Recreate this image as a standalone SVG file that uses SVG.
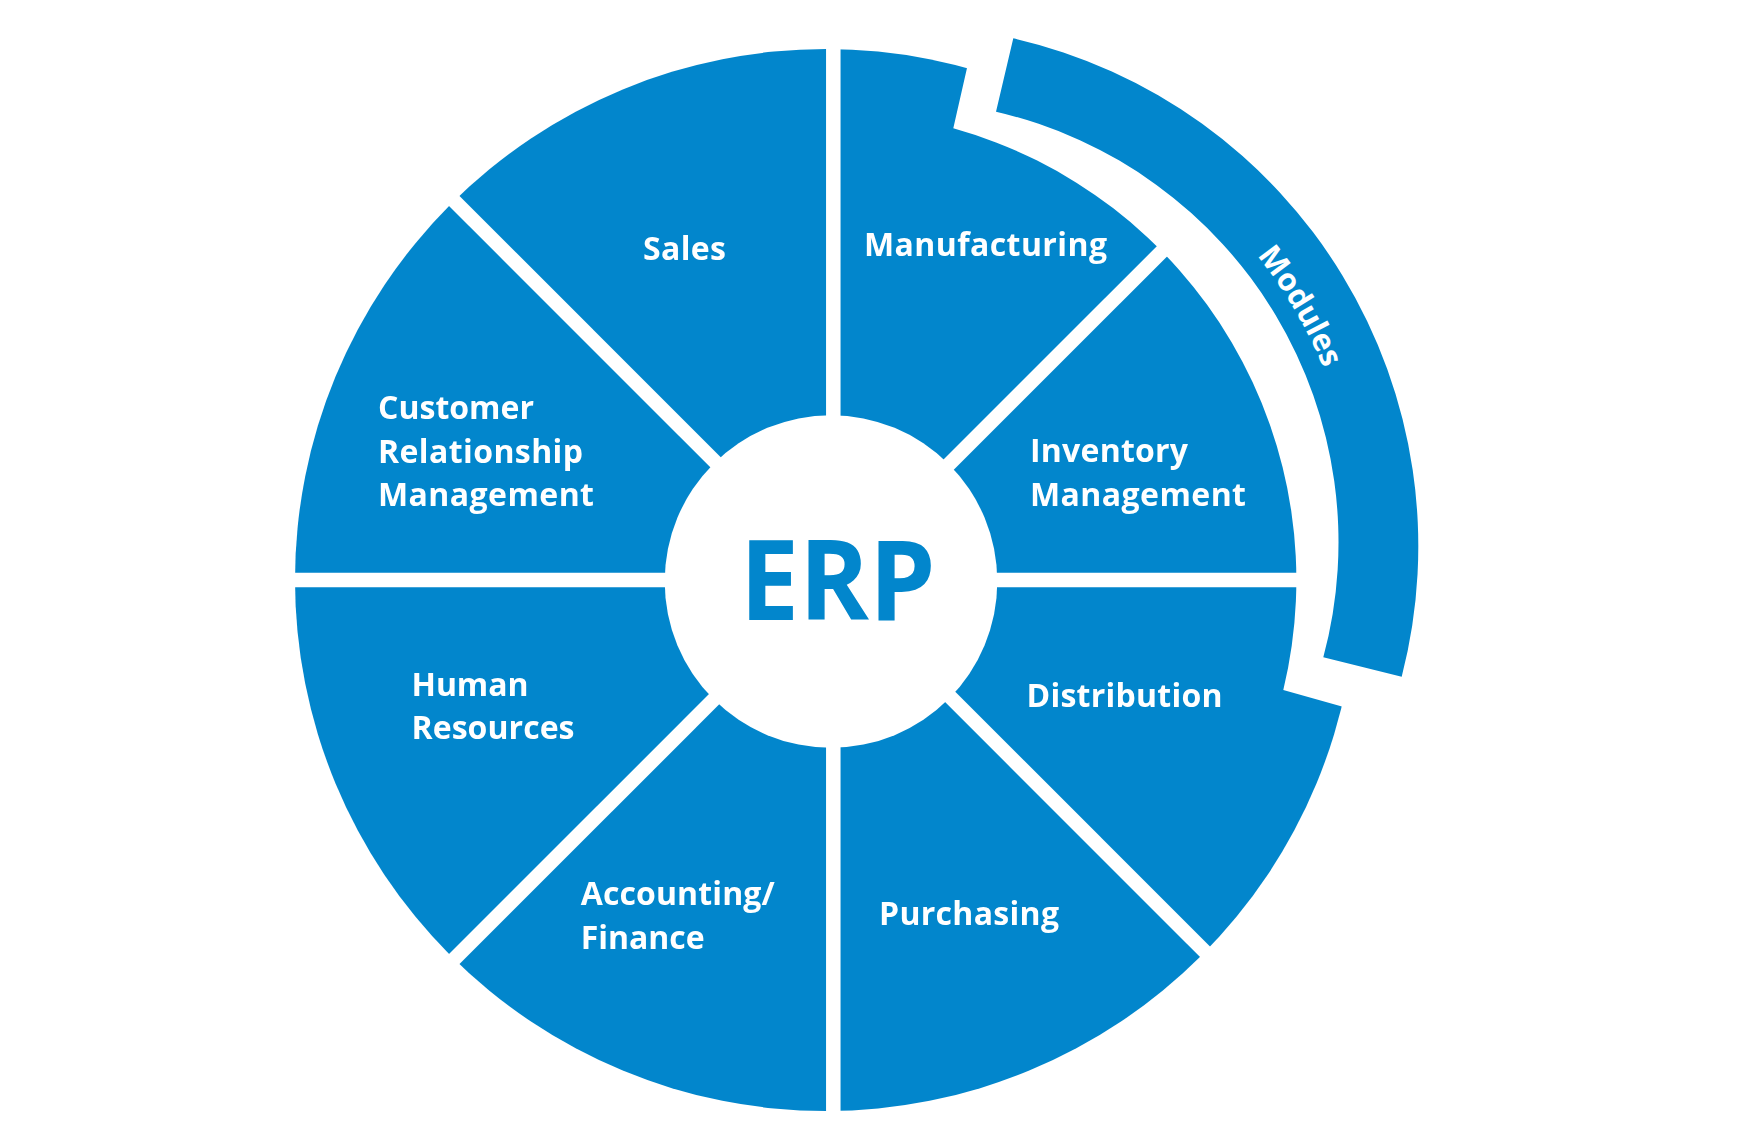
<svg xmlns="http://www.w3.org/2000/svg" width="1744" height="1122" viewBox="0 0 1744 1122">
  <style>
    .sector { fill: #0286cc; }
    .label { font-family: "Open Sans", "Noto Sans", "Liberation Sans", sans-serif; font-weight: 700; font-size: 32px; fill: #ffffff; }
    .erp { font-family: "Open Sans", "Noto Sans", "Liberation Sans", sans-serif; font-weight: 700; font-size: 111px; fill: #0286cc; }
    .mod { font-family: "Open Sans", "Noto Sans", "Liberation Sans", sans-serif; font-weight: 700; font-size: 31px; fill: #ffffff; }
  </style>
  <defs>
    <clipPath id="disc">
      <circle cx="826" cy="580" r="531"/>
    </clipPath>
    <mask id="gaps" maskUnits="userSpaceOnUse" x="0" y="0" width="1744" height="1122">
      <rect x="0" y="0" width="1744" height="1122" fill="#fff"/>
      <g stroke="#000" stroke-width="14.5">
        <line x1="833.3" y1="0" x2="833.3" y2="1122"/>
        <line x1="0" y1="580" x2="1744" y2="580"/>
        <line x1="133.3" y1="-120" x2="1533.3" y2="1280"/>
        <line x1="133.3" y1="1280" x2="1533.3" y2="-120"/>
      </g>
      <circle cx="831" cy="581.5" r="166.3" fill="#000"/>
      <path d="M953.3,128.3 A469,469 0 0 1 1283.3,690 L1429.6,731.3 L1700,740 L1700,-100 L1005.2,-100 Z" fill="#000"/>
    </mask>
    <path id="modArc" d="M814.43,89.05 A464,464 0 0 1 1331.02,704.70"/>
  </defs>

  <rect x="0" y="0" width="1744" height="1122" fill="#ffffff"/>

  <g id="sectors" clip-path="url(#disc)" mask="url(#gaps)">
    <g id="node-sales">
      <path class="sector" d="M833.3,580 L267.6,14.3 L833.3,-220 Z"/>
      <text class="label" x="643" y="260" textLength="83">Sales</text>
    </g>
    <g id="node-manufacturing">
      <path class="sector" d="M833.3,580 L833.3,-220 L1399,14.3 Z"/>
      <text class="label" x="864" y="256" textLength="243">Manufacturing</text>
    </g>
    <g id="node-inventory">
      <path class="sector" d="M833.3,580 L1399,14.3 L1633.3,580 Z"/>
      <text class="label" x="1030" y="462" textLength="158">Inventory</text>
      <text class="label" x="1030" y="506" textLength="216">Management</text>
    </g>
    <g id="node-distribution">
      <path class="sector" d="M833.3,580 L1633.3,580 L1399,1145.7 Z"/>
      <text class="label" x="1026.5" y="707" textLength="196">Distribution</text>
    </g>
    <g id="node-purchasing">
      <path class="sector" d="M833.3,580 L1399,1145.7 L833.3,1380 Z"/>
      <text class="label" x="879" y="924.5" textLength="180">Purchasing</text>
    </g>
    <g id="node-accounting">
      <path class="sector" d="M833.3,580 L833.3,1380 L267.6,1145.7 Z"/>
      <text class="label" x="580.7" y="905" textLength="194">Accounting/</text>
      <text class="label" x="580.7" y="949" textLength="124">Finance</text>
    </g>
    <g id="node-hr">
      <path class="sector" d="M833.3,580 L267.6,1145.7 L33.3,580 Z"/>
      <text class="label" x="411.5" y="696" textLength="117">Human</text>
      <text class="label" x="411.5" y="739" textLength="163">Resources</text>
    </g>
    <g id="node-crm">
      <path class="sector" d="M833.3,580 L33.3,580 L267.6,14.3 Z"/>
      <text class="label" x="378" y="419" textLength="156">Customer</text>
      <text class="label" x="378" y="463" textLength="205">Relationship</text>
      <text class="label" x="378" y="506" textLength="216">Management</text>
    </g>
  </g>

  <g id="node-erp">
    <text class="erp" x="837.7" y="620" text-anchor="middle" textLength="196" lengthAdjust="spacingAndGlyphs">ERP</text>
  </g>

  <g id="node-modules">
    <path class="sector" d="M1013.3,38.3 A521,521 0 0 1 1401.7,676.7 L1323.3,657.3 A442,442 0 0 0 996,111.7 Z"/>
    <text class="mod"><textPath href="#modArc" startOffset="561.6" text-anchor="middle">Modules</textPath></text>
  </g>

  <g id="connectors"/>
</svg>
